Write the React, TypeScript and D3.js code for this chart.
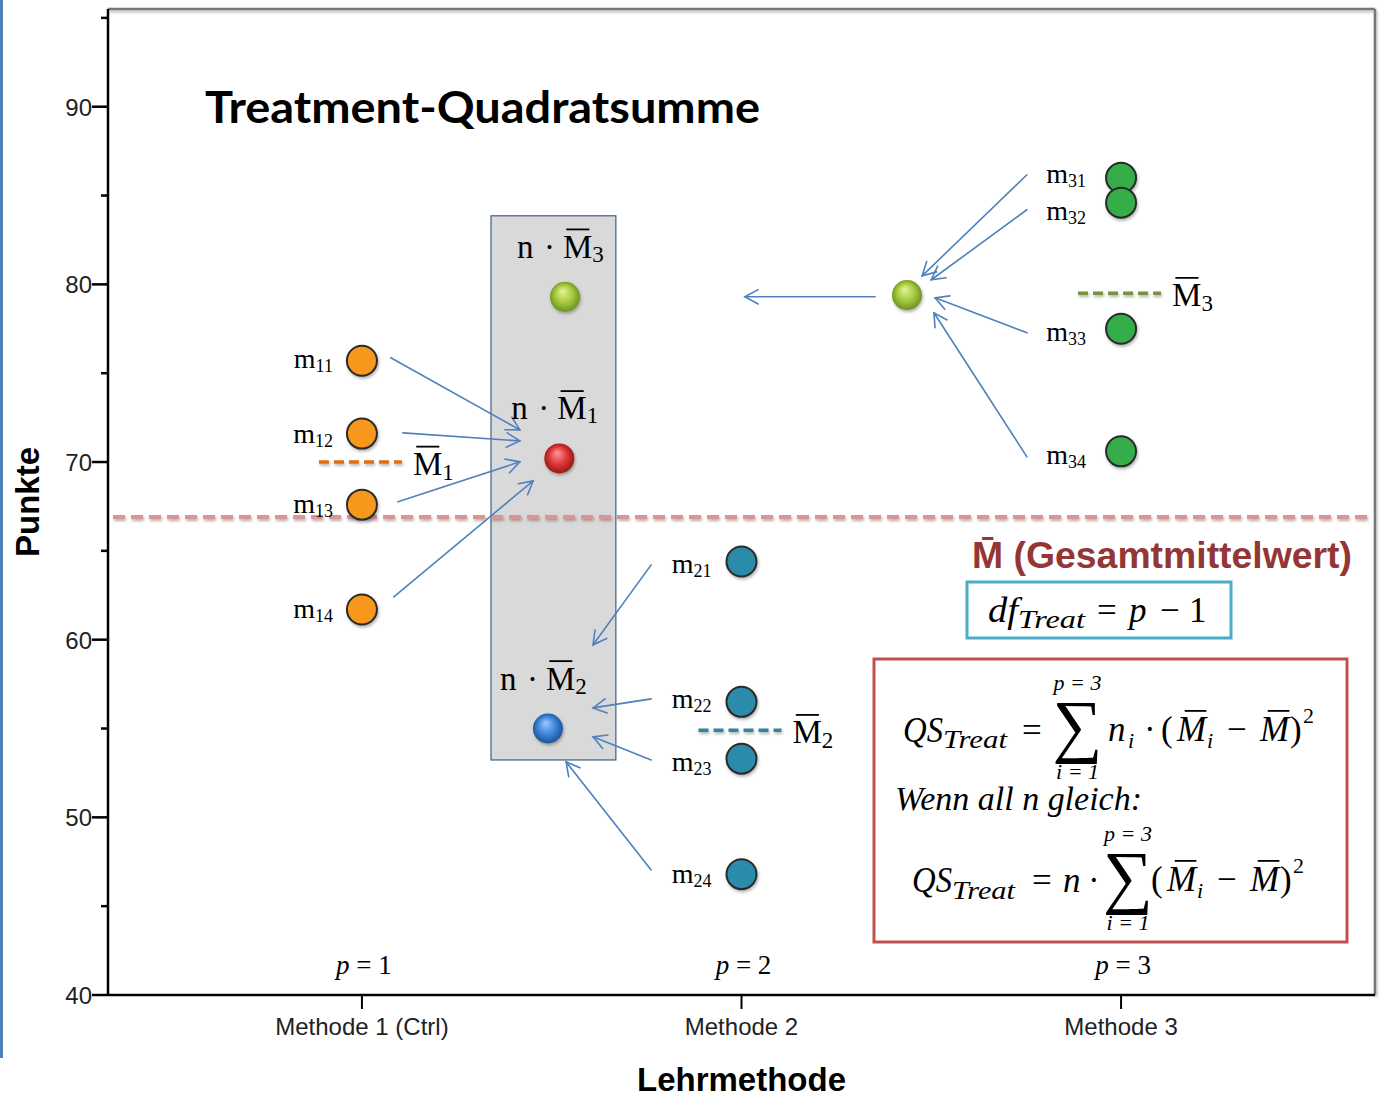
import * as d3 from 'd3'

const W = 1389
const H = 1105

const groups = ['Methode 1 (Ctrl)', 'Methode 2', 'Methode 3']
const groupPos = [1, 2, 3]
const yMajorTicks = [40, 50, 60, 70, 80, 90]
const yMinorTicks = [45, 55, 65, 75, 85, 95]

// single scores m_ij per teaching method
const scoresM1 = [75.7, 71.6, 67.6, 61.7]
const scoresM2 = [64.4, 56.5, 53.3, 46.8]
const scoresM3 = [86.0, 84.6, 77.5, 70.6]
const groupMeans = [70.0, 54.9, 79.5]
const grandMean = 66.9

// n·M̄ points in the grey column (x in group units)
const weightedX = [1.52, 1.49, 1.535]
const weightedY = [70.2, 55.0, 79.3]
const m3PointX = 2.436
const m3PointY = 79.4
const columnX = [1.34, 1.669]
const columnY = [53.23, 83.86]

// arrows as [x0, y0, x1, y1] in group units / Punkte
const arrowsM1 = [
  [1.076, 75.87, 1.416, 71.81],
  [1.108, 71.64, 1.416, 71.19],
  [1.095, 67.76, 1.416, 70.01],
  [1.084, 62.41, 1.451, 68.94],
]
const arrowsM2 = [
  [1.762, 64.21, 1.609, 59.71],
  [1.762, 56.67, 1.609, 56.16],
  [1.762, 53.23, 1.609, 54.53],
  [1.762, 47.04, 1.538, 53.12],
]
const arrowsM3 = [
  [2.752, 86.17, 2.476, 80.48],
  [2.752, 84.2, 2.5, 80.26],
  [2.752, 77.27, 2.51, 79.24],
  [2.752, 70.29, 2.507, 78.4],
  [2.352, 79.3, 2.009, 79.3],
]

const SANS = "'Liberation Sans', Arial, sans-serif"
const SERIF = "'Liberation Serif', 'Times New Roman', serif"

const fills = ['#F7981F', '#2A8BAA', '#34AE4A']
const meanColors = ['#E36C0A', '#31859C', '#77933C']
const sphereIds = ['sphRed', 'sphBlue', 'sphLime']
const labelDx = [-29, -30, -35]
const labelDy = [
  [7, 9, 8, 9],
  [11, 6, 12, 9],
  [5, 17, 12, 13],
]
const ARROW = '#4F81BD'

function Arrow({ x0, y0, x1, y1 }: { x0: number; y0: number; x1: number; y1: number }) {
  const a = Math.atan2(y1 - y0, x1 - x0)
  const L = 15
  const s = 0.5
  const w1 = [x1 - L * Math.cos(a - s), y1 - L * Math.sin(a - s)]
  const w2 = [x1 - L * Math.cos(a + s), y1 - L * Math.sin(a + s)]
  return (
    <g stroke={ARROW} strokeWidth={1.6} fill="none" strokeLinecap="round">
      <line x1={x0} y1={y0} x2={x1} y2={y1} />
      <path d={`M${w1[0]},${w1[1]}L${x1},${y1}L${w2[0]},${w2[1]}`} />
    </g>
  )
}

// M with an overbar, optional subscript
function MBar({ x, y, size, italic, sub, subSize = 22, subDx, subDy = 5 }: {
  x: number
  y: number
  size: number
  italic?: boolean
  sub?: string
  subSize?: number
  subDx?: number
  subDy?: number
}) {
  const b0 = italic ? x + 0.22 * size : x + 0.1 * size
  const b1 = italic ? x + 0.84 * size : x + 0.8 * size
  const sx = subDx ?? (italic ? 0.8 : 0.89) * size
  return (
    <g fontFamily={SERIF}>
      <text x={x} y={y} fontSize={size} fontStyle={italic ? 'italic' : 'normal'}>
        M
      </text>
      <line x1={b0} x2={b1} y1={y - 0.86 * size} y2={y - 0.86 * size} stroke="#000" strokeWidth={1.8} />
      {sub && (
        <text x={x + sx} y={y + subDy} fontSize={subSize} fontStyle={italic ? 'italic' : 'normal'}>
          {sub}
        </text>
      )}
    </g>
  )
}

type Piece = [string, number, number, number, boolean, number?]

// formula glyph layout, relative to the surrounding box
const qs1: Piece[] = [
  ['QS', 29, 83, 35, true, 40],
  ['Treat', 69, 89, 26, true, 64],
  ['=', 148, 83, 35, false],
  ['n', 234, 82, 35, true],
  ['i', 254, 89, 22, true],
  ['·', 270, 82, 35, false],
  ['(', 287, 82, 35, false],
  ['\u2212', 353, 82, 35, false],
  [')', 416, 82, 35, false],
  ['2', 429, 64, 22, false],
]
const qs1Bars = [303, 386]
const qs2: Piece[] = [
  ['QS', 38, 233, 35, true, 40],
  ['Treat', 78, 240, 26, true, 63],
  ['=', 158, 233, 35, false],
  ['n', 189, 233, 35, true],
  ['·', 214, 233, 35, false],
  ['(', 277, 232, 35, false],
  ['\u2212', 343, 232, 35, false],
  [')', 406, 232, 35, false],
  ['2', 419, 214, 22, false],
]
const qs2Bars = [293, 376]
const dfPieces: Piece[] = [
  ['df', 21, 40, 35, true, 30],
  ['Treat', 51, 46, 26, true, 67],
  ['=', 130, 40, 35, false],
  ['p', 162, 40, 35, true],
  ['\u2212', 193, 40, 35, false],
  ['1', 222, 40, 35, false],
]

function Pieces({ items, ox, oy }: { items: Piece[]; ox: number; oy: number }) {
  return (
    <g fontFamily={SERIF} fill="#000">
      {items.map(([t, dx, dy, fs, it, len], i) => (
        <text
          key={i}
          x={ox + dx}
          y={oy + dy}
          fontSize={fs}
          fontStyle={it ? 'italic' : 'normal'}
          textLength={len}
          lengthAdjust={len ? 'spacingAndGlyphs' : undefined}
        >
          {t}
        </text>
      ))}
    </g>
  )
}

function Sum({ cx, top, ox, oy }: { cx: number; top: number; ox: number; oy: number }) {
  return (
    <g fontFamily={SERIF} textAnchor="middle">
      <text x={ox + cx} y={oy + top - 7} fontSize={22} fontStyle="italic">
        p = 3
      </text>
      <text x={ox + cx} y={oy + top + 52} fontSize={70}>
        ∑
      </text>
      <text x={ox + cx} y={oy + top + 82} fontSize={22} fontStyle="italic">
        i = 1
      </text>
    </g>
  )
}

export default function App() {
  const x = d3.scaleLinear().domain([0.331, 3.669]).range([108, 1375])
  const y = d3.scaleLinear().domain([40, 95.5]).range([995, 9])
  const scores = [scoresM1, scoresM2, scoresM3]
  const arrows = [...arrowsM1, ...arrowsM2, ...arrowsM3]
  const [x0, x1] = x.range()
  const [yb, yt] = y.range()

  const qsBox = { x: 874, y: 659, w: 473, h: 283 }
  const dfBox = { x: 967, y: 582, w: 264, h: 56 }

  return (
    <div style={{ position: 'absolute', left: 0, top: 0 }}>
      <svg width={W} height={H} viewBox={`0 0 ${W} ${H}`} style={{ display: 'block', background: '#fff' }}>
        <defs>
          <radialGradient id="sphRed" cx="50%" cy="50%" r="55%" fx="42%" fy="30%">
            <stop offset="0%" stopColor="#ff9a9a" />
            <stop offset="55%" stopColor="#dc3535" />
            <stop offset="100%" stopColor="#8e1414" />
          </radialGradient>
          <radialGradient id="sphBlue" cx="50%" cy="50%" r="55%" fx="42%" fy="30%">
            <stop offset="0%" stopColor="#9ccbff" />
            <stop offset="55%" stopColor="#3b84d8" />
            <stop offset="100%" stopColor="#1a4a8c" />
          </radialGradient>
          <radialGradient id="sphLime" cx="50%" cy="50%" r="55%" fx="42%" fy="30%">
            <stop offset="0%" stopColor="#e6f59a" />
            <stop offset="55%" stopColor="#a3c83c" />
            <stop offset="100%" stopColor="#65891c" />
          </radialGradient>
          <filter id="shadow" filterUnits="userSpaceOnUse" x={0} y={0} width={W} height={H}>
            <feDropShadow dx="1" dy="2" stdDeviation="1.5" floodOpacity="0.3" />
          </filter>
        </defs>

        <rect x={0} y={0} width={3} height={1058} fill="#4F81BD" />

        {/* frame */}
        <g filter="url(#shadow)">
          <line x1={x0} y1={yt} x2={x1} y2={yt} stroke="#777" strokeWidth={2.5} />
          <line x1={x1} y1={yt} x2={x1} y2={yb} stroke="#777" strokeWidth={2.5} />
        </g>
        <line x1={x0} y1={yt} x2={x0} y2={yb} stroke="#000" strokeWidth={2.5} />
        <line x1={x0} y1={yb} x2={x1} y2={yb} stroke="#000" strokeWidth={2.5} />

        {/* y axis */}
        {yMajorTicks.map((t) => (
          <g key={t}>
            <line x1={x0 - 16} x2={x0} y1={y(t)} y2={y(t)} stroke="#000" strokeWidth={2.5} />
            <text x={x0 - 16} y={y(t) + 9} textAnchor="end" fontFamily={SANS} fontSize={24} fill="#222">
              {t}
            </text>
          </g>
        ))}
        {yMinorTicks.map((t) => (
          <line key={t} x1={x0 - 7} x2={x0} y1={y(t)} y2={y(t)} stroke="#000" strokeWidth={2.5} />
        ))}

        {/* x axis */}
        {groups.map((g, i) => (
          <g key={g}>
            <line x1={x(groupPos[i])} x2={x(groupPos[i])} y1={yb} y2={yb + 14} stroke="#000" strokeWidth={2} />
            <text x={x(groupPos[i])} y={yb + 40} textAnchor="middle" fontFamily={SANS} fontSize={24} fill="#222">
              {g}
            </text>
            <text x={x(groupPos[i]) + 2} y={yb - 21} textAnchor="middle" fontFamily={SERIF} fontSize={27}>
              <tspan fontStyle="italic">p</tspan> = {groupPos[i]}
            </text>
          </g>
        ))}

        <text x={x(2)} y={1091} textAnchor="middle" fontFamily={SANS} fontWeight="bold" fontSize={33}>
          Lehrmethode
        </text>
        <text
          transform={`translate(39,${(yt + yb) / 2}) rotate(-90)`}
          textAnchor="middle"
          fontFamily={SANS}
          fontWeight="bold"
          fontSize={33}
        >
          Punkte
        </text>

        <text
          x={205}
          y={123}
          fontFamily="Lato, 'Open Sans', sans-serif"
          fontWeight="bold"
          fontSize={43}
          textLength={555}
          lengthAdjust="spacingAndGlyphs"
        >
          Treatment-Quadratsumme
        </text>

        {/* grey column of n·M̄ */}
        <rect
          x={x(columnX[0])}
          y={y(columnY[1])}
          width={x(columnX[1]) - x(columnX[0])}
          height={y(columnY[0]) - y(columnY[1])}
          fill="#D9D9D9"
          stroke="#3D5F8C"
          strokeWidth={1.2}
        />

        {/* grand mean */}
        <line
          x1={x0 + 5}
          x2={x1 - 3}
          y1={y(grandMean)}
          y2={y(grandMean)}
          stroke="#D99694"
          strokeWidth={4}
          strokeDasharray="12 6"
          filter="url(#shadow)"
        />
        <text
          x={972}
          y={568}
          fontFamily={SANS}
          fontWeight="bold"
          fontSize={37}
          fill="#943634"
          textLength={380}
          lengthAdjust="spacingAndGlyphs"
        >
          {'M\u0304 (Gesamtmittelwert)'}
        </text>

        {/* group means */}
        {groupMeans.map((m, i) => (
          <g key={i}>
            <line
              x1={x(groupPos[i]) - 43}
              x2={x(groupPos[i]) + 40}
              y1={y(m)}
              y2={y(m)}
              stroke={meanColors[i]}
              strokeWidth={3.5}
              strokeDasharray="10 5"
              filter="url(#shadow)"
            />
            <MBar x={x(groupPos[i]) + 51} y={y(m) + 13} size={33} sub={`${i + 1}`} subSize={23} subDy={5} />
          </g>
        ))}

        {/* arrows */}
        {arrows.map((a, i) => (
          <Arrow key={i} x0={x(a[0])} y0={y(a[1])} x1={x(a[2])} y1={y(a[3])} />
        ))}

        {/* single scores */}
        {scores.map((vals, gi) =>
          vals.map((v, j) => (
            <g key={`${gi}-${j}`}>
              <circle
                cx={x(groupPos[gi])}
                cy={y(v)}
                r={15}
                fill={fills[gi]}
                stroke="#2A2A2A"
                strokeWidth={2}
                filter="url(#shadow)"
              />
              <text
                x={x(groupPos[gi]) + labelDx[gi]}
                y={y(v) + labelDy[gi][j]}
                textAnchor="end"
                fontFamily={SERIF}
                fontSize={28}
              >
                m
                <tspan fontSize={18} dy={4}>
                  {`${gi + 1}${j + 1}`}
                </tspan>
              </text>
            </g>
          ))
        )}

        {/* n·M̄ spheres */}
        {weightedY.map((v, i) => {
          const cx = x(weightedX[i])
          const cy = y(v)
          return (
            <g key={i}>
              <circle cx={cx} cy={cy} r={15} fill={`url(#${sphereIds[i]})`} filter="url(#shadow)" />
              <text x={cx - 48} y={cy - 39} fontFamily={SERIF} fontSize={33}>
                n
              </text>
              <text x={cx - 21} y={cy - 39} fontFamily={SERIF} fontSize={33}>
                ·
              </text>
              <MBar x={cx - 2} y={cy - 39} size={33} sub={`${i + 1}`} subSize={23} subDy={4} />
            </g>
          )
        })}
        <circle cx={x(m3PointX)} cy={y(m3PointY)} r={15} fill="url(#sphLime)" filter="url(#shadow)" />

        {/* df box */}
        <rect x={dfBox.x} y={dfBox.y} width={dfBox.w} height={dfBox.h} fill="#fff" stroke="#4BACC6" strokeWidth={3} />
        <Pieces items={dfPieces} ox={dfBox.x} oy={dfBox.y} />

        {/* QS box */}
        <rect x={qsBox.x} y={qsBox.y} width={qsBox.w} height={qsBox.h} fill="#fff" stroke="#C0504D" strokeWidth={3} />
        <Pieces items={qs1} ox={qsBox.x} oy={qsBox.y} />
        {qs1Bars.map((bx, i) => (
          <MBar key={i} x={qsBox.x + bx} y={qsBox.y + 82} size={35} italic sub={i === 0 ? 'i' : undefined} subSize={22} subDx={30} subDy={7} />
        ))}
        <Sum cx={203.5} top={38} ox={qsBox.x} oy={qsBox.y} />
        <text
          x={qsBox.x + 21}
          y={qsBox.y + 151}
          fontFamily={SERIF}
          fontStyle="italic"
          fontSize={33}
          textLength={247}
          lengthAdjust="spacingAndGlyphs"
        >
          Wenn all n gleich:
        </text>
        <Pieces items={qs2} ox={qsBox.x} oy={qsBox.y} />
        {qs2Bars.map((bx, i) => (
          <MBar key={i} x={qsBox.x + bx} y={qsBox.y + 232} size={35} italic sub={i === 0 ? 'i' : undefined} subSize={22} subDx={30} subDy={7} />
        ))}
        <Sum cx={254} top={189} ox={qsBox.x} oy={qsBox.y} />
      </svg>
    </div>
  )
}
